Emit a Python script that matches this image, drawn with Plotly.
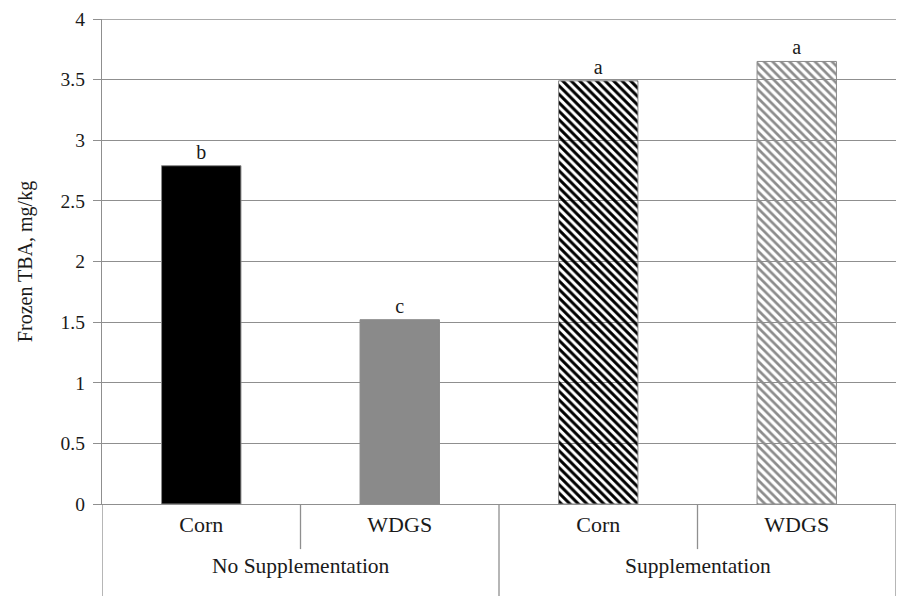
import plotly.graph_objects as go

groups = ["No Supplementation", "Supplementation"]
diets = ["Corn", "WDGS", "Corn", "WDGS"]
tba = [2.79, 1.52, 3.49, 3.65]
letters = ["b", "c", "a", "a"]
y_max = 4

bar_colors = ["#000000", "#8a8a8a", "#000000", "#8c8c8c"]
pattern_shapes = ["", "", "\\", "\\"]
pattern_solid = [0.5, 0.5, 0.5, 0.45]

FONT = "Liberation Serif"
GRID = "#8f8f8f"
TXT = "#1a1a1a"

pos = list(range(len(diets)))

fig = go.Figure()
fig.add_trace(go.Bar(
    x=pos,
    y=tba,
    text=letters,
    textposition="outside",
    textfont=dict(family=FONT, size=20, color=TXT),
    cliponaxis=False,
    width=0.4,
    marker=dict(
        color=bar_colors,
        line=dict(color="#8a8a8a", width=1),
        pattern=dict(shape=pattern_shapes, bgcolor="#ffffff",
                     size=6, solidity=pattern_solid, fillmode="replace"),
    ),
    showlegend=False,
))

# top gridline
fig.add_shape(type="line", xref="paper", yref="y", x0=0, x1=1, y0=y_max, y1=y_max,
              line=dict(color=GRID, width=1.3), layer="below")

# category separators below the axis
n = len(diets)
per_group = n // len(groups)
for b in range(n + 1):
    xb = b - 0.5
    is_group_edge = (b % per_group == 0)
    fig.add_shape(type="line", xref="x", yref="paper",
                  x0=xb, x1=xb, y0=0, y1=-0.2 if is_group_edge else -0.093,
                  line=dict(color=GRID, width=1.3), layer="above")

# group labels
for gi, g in enumerate(groups):
    xc = gi * per_group + (per_group - 1) / 2
    fig.add_annotation(x=xc, xref="x", y=-0.128, yref="paper", text=g,
                       showarrow=False, yanchor="middle",
                       font=dict(family=FONT, size=21.5, color=TXT))

fig.update_layout(
    width=898, height=596,
    margin=dict(l=102, r=2, t=19, b=92),
    paper_bgcolor="white", plot_bgcolor="white",
    font=dict(family=FONT, size=19, color=TXT),
)
fig.update_yaxes(
    range=[0, y_max], dtick=0.5,
    showgrid=True, gridcolor=GRID, gridwidth=1.3,
    showline=True, linecolor=GRID, linewidth=1.3,
    ticks="outside", ticklen=8, tickcolor=GRID, tickwidth=1.3,
    ticklabelstandoff=4,
    zeroline=False,
    title=dict(text="Frozen TBA, mg/kg", font=dict(family=FONT, size=20, color=TXT), standoff=22),
    tickfont=dict(family=FONT, size=19.5, color=TXT),
)
fig.update_xaxes(
    range=[-0.5, n - 0.5],
    tickvals=pos, ticktext=diets,
    showline=True, linecolor=GRID, linewidth=1.3,
    ticks="outside", ticklen=0, tickcolor="rgba(0,0,0,0)",
    showgrid=False, zeroline=False,
    tickfont=dict(family=FONT, size=22, color=TXT),
)

fig.write_html("out.html",
               config={"displayModeBar": False},
               post_script="document.body.style.margin='0';document.body.style.overflow='hidden';")
